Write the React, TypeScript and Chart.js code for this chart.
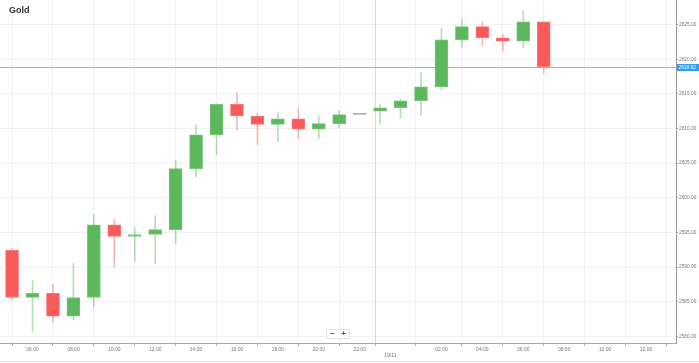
import React, { useEffect, useRef } from 'react';
import { Chart, registerables } from 'chart.js';

Chart.register(...registerables);

const title = 'Gold';
// hour offsets from 18/11 00:00
const hours = [5, 6, 7, 8, 9, 10, 11, 12, 13, 14, 15, 16, 17, 18, 19, 20, 21, 22, 23, 24, 25, 26, 27, 28, 29, 30, 31];
const opens = [2592.4, 2585.6, 2586.2, 2582.9, 2585.6, 2596.1, 2594.4, 2594.7, 2595.4, 2604.2, 2609.1, 2613.5, 2611.8, 2610.6, 2611.4, 2609.9, 2610.7, 2612.1, 2612.5, 2613.0, 2614.0, 2616.0, 2622.8, 2624.7, 2623.1, 2622.6, 2625.4];
const highs = [2592.7, 2588.1, 2587.5, 2590.5, 2597.6, 2596.9, 2595.7, 2597.4, 2605.4, 2610.5, 2613.6, 2615.2, 2612.2, 2612.3, 2612.9, 2611.8, 2612.6, 2612.1, 2613.5, 2614.2, 2618.1, 2624.5, 2625.8, 2625.4, 2623.6, 2627.0, 2625.4];
const lows = [2585.3, 2580.7, 2582.0, 2582.4, 2584.2, 2589.9, 2590.8, 2590.5, 2593.3, 2603.0, 2606.2, 2609.8, 2607.7, 2608.1, 2608.6, 2608.5, 2610.1, 2612.1, 2610.7, 2611.5, 2611.9, 2615.6, 2621.7, 2621.9, 2621.2, 2621.7, 2618.0];
const closes = [2585.6, 2586.2, 2582.9, 2585.6, 2596.1, 2594.4, 2594.7, 2595.4, 2604.2, 2609.1, 2613.5, 2611.8, 2610.6, 2611.4, 2609.9, 2610.7, 2612.0, 2612.1, 2613.0, 2614.0, 2616.0, 2622.8, 2624.7, 2623.1, 2622.6, 2625.4, 2618.92];

const yTicks = [2580, 2585, 2590, 2595, 2600, 2605, 2610, 2615, 2620, 2625];
const xTicks = [6, 8, 10, 12, 14, 16, 18, 20, 22, 23.5, 26, 28, 30, 32, 34, 36];
const xTickLabels = ['06:00', '08:00', '10:00', '12:00', '14:00', '16:00', '18:00', '20:00', '22:00', '19/11', '02:00', '04:00', '06:00', '08:00', '10:00', '12:00'];
const dayTick = 23.5;
const lastPrice = 2618.92;

const X_MIN = 4.41;
const X_MAX = 37.47;
const Y_MIN = 2579.03;
const Y_MAX = 2628.55;

const UP = '#5cb85c';
const DOWN = '#f85a5a';
const FLAT = '#9a9a9a';
const FONT = '"Liberation Sans", Arial, sans-serif';

function colorFor(i: number) {
  if (closes[i] > opens[i]) return UP;
  if (closes[i] < opens[i]) return DOWN;
  return FLAT;
}

const pricePlugin = {
  id: 'priceLine',
  beforeDatasetsDraw(chart: any) {
    const { ctx, chartArea, scales } = chart;
    const y = Math.round(scales.y.getPixelForValue(lastPrice)) + 0.5;
    ctx.save();
    ctx.strokeStyle = '#7cbff0';
    ctx.lineWidth = 1;
    ctx.beginPath();
    ctx.moveTo(chartArea.left, y);
    ctx.lineTo(chartArea.right, y);
    ctx.stroke();
    ctx.restore();
  },
  afterDraw(chart: any) {
    const { ctx, chartArea, scales } = chart;
    const y = Math.round(scales.y.getPixelForValue(lastPrice));
    ctx.save();
    ctx.fillStyle = '#2f9ef0';
    const x0 = chartArea.right + 1;
    ctx.beginPath();
    ctx.rect(x0, y - 3, chart.width - x0, 7);
    ctx.fill();
    ctx.fillStyle = '#ffffff';
    ctx.font = `4.8px ${FONT}`;
    ctx.textBaseline = 'middle';
    ctx.textAlign = 'left';
    ctx.fillText(lastPrice.toFixed(2), x0 + 1.5, y + 0.5);
    ctx.restore();
  },
};

export default function App() {
  const ref = useRef<HTMLCanvasElement | null>(null);

  useEffect(() => {
    document.body.style.margin = '0';
    if (!ref.current) return;
    const wickData = hours.map((h, i) => ({ x: h, y: [lows[i], highs[i]] }));
    const bodyData = hours.map((h, i) => {
      let lo = Math.min(opens[i], closes[i]);
      let hi = Math.max(opens[i], closes[i]);
      if (hi - lo < 0.15) {
        const m = (hi + lo) / 2;
        lo = m - 0.08;
        hi = m + 0.08;
      }
      return { x: h, y: [lo, hi] };
    });
    const wickColors = hours.map((_, i) => {
      const c = colorFor(i);
      if (c === UP) return 'rgba(92,184,92,0.45)';
      if (c === DOWN) return 'rgba(248,90,90,0.45)';
      return 'rgba(150,150,150,0.0)';
    });
    const bodyColors = hours.map((_, i) => colorFor(i));
    const bodyBorders = hours.map((_, i) => {
      const c = colorFor(i);
      if (c === UP) return 'rgba(120,196,120,1)';
      if (c === DOWN) return 'rgba(250,120,120,1)';
      return FLAT;
    });

    const chart = new Chart(ref.current, {
      type: 'bar',
      data: {
        datasets: [
          {
            label: 'wick',
            data: wickData as any,
            backgroundColor: wickColors,
            barThickness: 1,
            grouped: false,
            order: 2,
          } as any,
          {
            label: 'body',
            data: bodyData as any,
            backgroundColor: bodyColors,
            borderColor: bodyBorders,
            borderWidth: 1,
            borderSkipped: false,
            barThickness: 13,
            grouped: false,
            order: 1,
          } as any,
        ],
      },
      options: {
        animation: false,
        responsive: false,
        devicePixelRatio: 1,
        layout: { padding: 0 },
        plugins: {
          legend: { display: false },
          tooltip: { enabled: false },
          title: { display: false },
        },
        scales: {
          x: {
            type: 'linear',
            min: X_MIN,
            max: X_MAX,
            offset: false,
            afterBuildTicks: (scale: any) => {
              scale.ticks = xTicks.map((v) => ({ value: v }));
            },
            afterFit: (scale: any) => {
              scale.height = 20;
              scale.paddingLeft = 0;
              scale.paddingRight = 0;
            },
            ticks: {
              autoSkip: false,
              maxRotation: 0,
              padding: 1,
              color: '#777',
              font: { size: 5, family: FONT },
              callback: (value: any) => {
                const idx = xTicks.indexOf(Number(value));
                if (idx < 0) return '';
                if (xTicks[idx] === dayTick) return ['', xTickLabels[idx]];
                return xTickLabels[idx];
              },
            },
            grid: {
              color: (ctx: any) => (ctx.tick && ctx.tick.value === dayTick ? '#dadada' : 'rgba(0,0,0,0.05)'),
              tickColor: '#aaa',
              tickLength: 3,
            },
            border: { display: true, color: '#a8a8a8', width: 1 },
          },
          y: {
            type: 'linear',
            position: 'right',
            min: Y_MIN,
            max: Y_MAX,
            afterBuildTicks: (scale: any) => {
              scale.ticks = yTicks.map((v) => ({ value: v }));
            },
            afterFit: (scale: any) => {
              scale.width = 23;
              scale.paddingTop = 0;
              scale.paddingBottom = 0;
            },
            ticks: {
              padding: 1,
              color: '#777',
              font: { size: 4.8, family: FONT },
              callback: (value: any) => Number(value).toFixed(2),
            },
            grid: {
              color: 'rgba(0,0,0,0.05)',
              tickColor: '#aaa',
              tickLength: 2,
            },
            border: { display: true, color: '#9a9a9a', width: 1 },
          },
        },
      },
      plugins: [pricePlugin],
    });
    return () => chart.destroy();
  }, []);

  return (
    <div style={{ position: 'absolute', left: 0, top: 0, width: 699, height: 363, background: '#fff', overflow: 'hidden' }}>
      <canvas ref={ref} width={699} height={363} style={{ display: 'block', width: 699, height: 363 }} />
      <div
        style={{
          position: 'absolute',
          left: 9,
          top: 5,
          font: `bold 9px ${FONT}`,
          color: '#333',
        }}
      >
        {title}
      </div>
      <div style={{ position: 'absolute', left: 326, top: 329, display: 'flex', background: '#fff', border: '1px solid #e2e2e2', borderRadius: 2 }}>
        <div style={{ width: 11, height: 8, font: `bold 8px ${FONT}`, lineHeight: '8px', textAlign: 'center', color: '#555' }}>−</div>
        <div style={{ width: 11, height: 8, font: `bold 8px ${FONT}`, lineHeight: '8px', textAlign: 'center', color: '#555' }}>+</div>
      </div>
      <div style={{ position: 'absolute', left: 0, top: 361, width: 699, height: 1, background: '#e6e6e6' }} />
    </div>
  );
}
